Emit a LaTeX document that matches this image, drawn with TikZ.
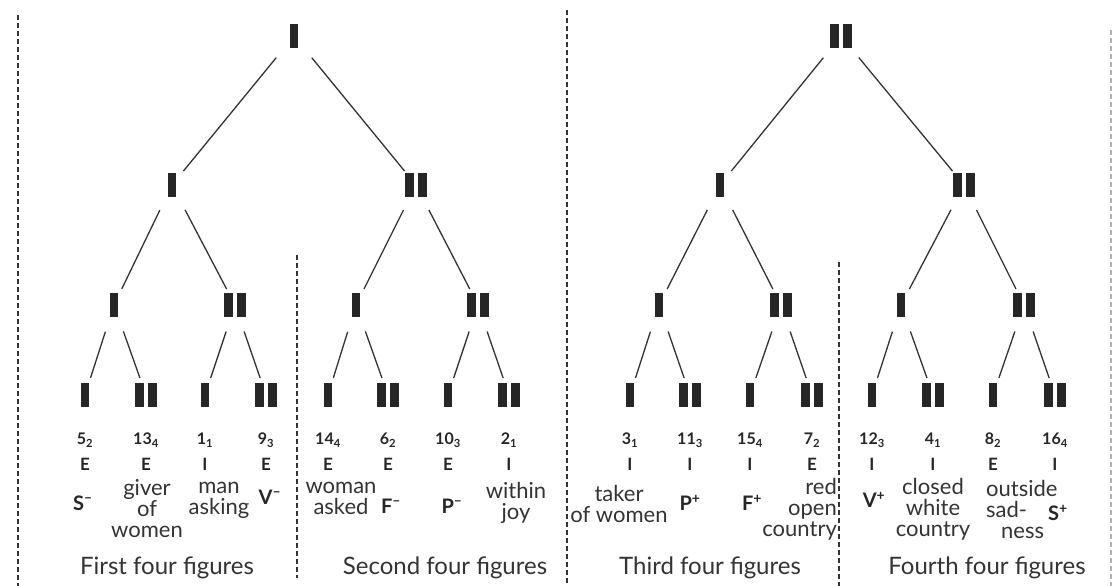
\documentclass[tikz,border=0pt]{standalone}
\usepackage{fontspec}
\setmainfont{Lato}
\usetikzlibrary{positioning}

\newcommand{\gone}{\rule{8pt}{24pt}}
\newcommand{\gtwo}{\rule{9pt}{24pt}\hspace{4pt}\rule{9pt}{24pt}}

\tikzset{
  fig/.style={inner sep=0pt, text=black!85},
  branch/.style={draw=black!80, line width=1.3pt, shorten <=28pt, shorten >=18pt},
  divider/.style={draw=black!80, line width=1.2pt, dash pattern=on 5pt off 3pt},
  num/.style={inner sep=0pt, text=black!85, font=\bfseries\fontsize{16}{16}\selectfont},
  side/.style={inner sep=0pt, text=black!85, font=\bfseries\fontsize{17}{17}\selectfont},
  sign/.style={inner sep=0pt, text=black!85, font=\bfseries\fontsize{20}{20}\selectfont},
  gloss/.style={inner sep=0pt, text=black!80, align=center, font=\fontsize{22}{21}\selectfont},
  caption/.style={inner sep=0pt, text=black!80, font=\fontsize{24}{24}\selectfont}
}

\begin{document}
\begin{tikzpicture}[x=1pt, y=-1pt]
	\useasboundingbox (0,0) rectangle (1114,586);

	% dividers between the four groups
	\draw[divider] (18,15) -- (18,586);
	\draw[divider] (297,255) -- (297,578);
	\draw[divider] (567,10) -- (567,586);
	\draw[divider] (839,262) -- (839,586);
	\draw[divider, draw=black!30] (1111,30) -- (1111,586);

	% first line
	\node[fig] (r1) at (294,36) {\gone};
	\node[fig] (r2) at (841,36) {\gtwo};

	% second line
	\node[fig] (a1) at (172,185) {\gone};
	\node[fig] (a2) at (416,185) {\gtwo};
	\node[fig] (a3) at (720,185) {\gone};
	\node[fig] (a4) at (964,185) {\gtwo};

	% third line
	\node[fig] (b1) at (114,305) {\gone};
	\node[fig] (b2) at (235,305) {\gtwo};
	\node[fig] (b3) at (356,305) {\gone};
	\node[fig] (b4) at (478,305) {\gtwo};
	\node[fig] (b5) at (659,305) {\gone};
	\node[fig] (b6) at (781,305) {\gtwo};
	\node[fig] (b7) at (901,305) {\gone};
	\node[fig] (b8) at (1024,305) {\gtwo};

	% fourth line
	\node[fig] (c1) at (85,395) {\gone};
	\node[fig] (c2) at (146,395) {\gtwo};
	\node[fig] (c3) at (205,395) {\gone};
	\node[fig] (c4) at (266,395) {\gtwo};
	\node[fig] (c5) at (328,395) {\gone};
	\node[fig] (c6) at (388,395) {\gtwo};
	\node[fig] (c7) at (448,395) {\gone};
	\node[fig] (c8) at (509,395) {\gtwo};
	\node[fig] (c9) at (630,395) {\gone};
	\node[fig] (c10) at (690,395) {\gtwo};
	\node[fig] (c11) at (750,395) {\gone};
	\node[fig] (c12) at (812,395) {\gtwo};
	\node[fig] (c13) at (872,395) {\gone};
	\node[fig] (c14) at (933,395) {\gtwo};
	\node[fig] (c15) at (993,395) {\gone};
	\node[fig] (c16) at (1055,395) {\gtwo};

	\path (r1.center) edge[branch] (a1.center) edge[branch] (a2.center);
	\path (r2.center) edge[branch] (a3.center) edge[branch] (a4.center);
	\path (a1.center) edge[branch] (b1.center) edge[branch] (b2.center);
	\path (a2.center) edge[branch] (b3.center) edge[branch] (b4.center);
	\path (a3.center) edge[branch] (b5.center) edge[branch] (b6.center);
	\path (a4.center) edge[branch] (b7.center) edge[branch] (b8.center);
	\path (b1.center) edge[branch] (c1.center) edge[branch] (c2.center);
	\path (b2.center) edge[branch] (c3.center) edge[branch] (c4.center);
	\path (b3.center) edge[branch] (c5.center) edge[branch] (c6.center);
	\path (b4.center) edge[branch] (c7.center) edge[branch] (c8.center);
	\path (b5.center) edge[branch] (c9.center) edge[branch] (c10.center);
	\path (b6.center) edge[branch] (c11.center) edge[branch] (c12.center);
	\path (b7.center) edge[branch] (c13.center) edge[branch] (c14.center);
	\path (b8.center) edge[branch] (c15.center) edge[branch] (c16.center);

	% numbers and sides
	\coordinate (numrow) at (0,440);
	\coordinate (siderow) at (0,464);
	\node[num] (n1) at (c1 |- numrow) {5\textsubscript{2}};
	\node[num] (n2) at (c2 |- numrow) {13\textsubscript{4}};
	\node[num] (n3) at (c3 |- numrow) {1\textsubscript{1}};
	\node[num] (n4) at (c4 |- numrow) {9\textsubscript{3}};
	\node[num] (n5) at (c5 |- numrow) {14\textsubscript{4}};
	\node[num] (n6) at (c6 |- numrow) {6\textsubscript{2}};
	\node[num] (n7) at (c7 |- numrow) {10\textsubscript{3}};
	\node[num] (n8) at (c8 |- numrow) {2\textsubscript{1}};
	\node[num] (n9) at (c9 |- numrow) {3\textsubscript{1}};
	\node[num] (n10) at (c10 |- numrow) {11\textsubscript{3}};
	\node[num] (n11) at (c11 |- numrow) {15\textsubscript{4}};
	\node[num] (n12) at (c12 |- numrow) {7\textsubscript{2}};
	\node[num] (n13) at (c13 |- numrow) {12\textsubscript{3}};
	\node[num] (n14) at (c14 |- numrow) {4\textsubscript{1}};
	\node[num] (n15) at (c15 |- numrow) {8\textsubscript{2}};
	\node[num] (n16) at (c16 |- numrow) {16\textsubscript{4}};

	\node[side] (s1) at (c1 |- siderow) {E};
	\node[side] (s2) at (c2 |- siderow) {E};
	\node[side] (s3) at (c3 |- siderow) {I};
	\node[side] (s4) at (c4 |- siderow) {E};
	\node[side] (s5) at (c5 |- siderow) {E};
	\node[side] (s6) at (c6 |- siderow) {E};
	\node[side] (s7) at (c7 |- siderow) {E};
	\node[side] (s8) at (c8 |- siderow) {I};
	\node[side] (s9) at (c9 |- siderow) {I};
	\node[side] (s10) at (c10 |- siderow) {I};
	\node[side] (s11) at (c11 |- siderow) {I};
	\node[side] (s12) at (c12 |- siderow) {E};
	\node[side] (s13) at (c13 |- siderow) {I};
	\node[side] (s14) at (c14 |- siderow) {I};
	\node[side] (s15) at (c15 |- siderow) {E};
	\node[side] (s16) at (c16 |- siderow) {I};

	% names
	\node[sign] (w1) at (83,503) {S\textsuperscript{--}};
	\node[gloss] (w2) at (147,509) {giver\\of\\women};
	\node[gloss] (w3) at (219,500) {man\\asking};
	\node[sign] (w4) at (270,497) {V\textsuperscript{--}};
	\node[gloss] (w5) at (341,498) {woman\\asked};
	\node[sign] (w6) at (391,506) {F\textsuperscript{--}};
	\node[sign] (w7) at (452,506) {P\textsuperscript{--}};
	\node[gloss] (w8) at (516,503) {within\\joy};
	\node[gloss] (w9) at (619,504) {taker\\of women};
	\node[sign] (w10) at (690,503) {P\textsuperscript{+}};
	\node[sign] (w11) at (752,503) {F\textsuperscript{+}};
	\node[gloss, align=right, anchor=east] (w12) at (837,509) {red\\open\\country};
	\node[sign] (w13) at (874,500) {V\textsuperscript{+}};
	\node[gloss] (w14) at (933,509) {closed\\white\\country};
	\node[gloss, align=left, anchor=west] (w15) at (986,509) {outside\\sad-\\\hspace*{15pt}ness};
	\node[sign] (w16) at (1058,513) {S\textsuperscript{+}};

	% captions
	\node[caption] (g1) at (167,568) {First four figures};
	\node[caption] (g2) at (445,568) {Second four figures};
	\node[caption] (g3) at (710,568) {Third four figures};
	\node[caption] (g4) at (987,568) {Fourth four figures};
\end{tikzpicture}
\end{document}
